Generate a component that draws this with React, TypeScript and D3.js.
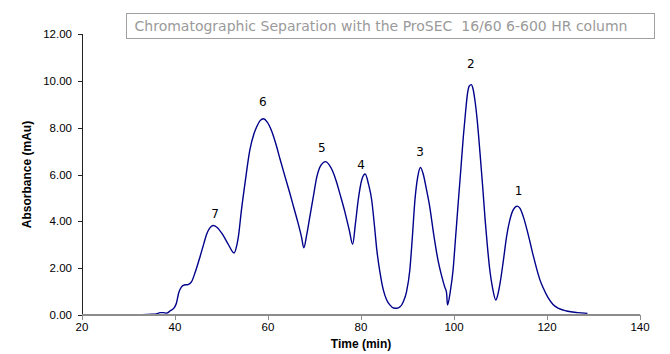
import React from "react";
import * as d3 from "d3";

const timeMin: number[] = [
  20, 25, 30, 32, 33, 34, 35, 36, 36.8, 37.5, 38.2, 39, 39.8, 40.3, 40.8, 41.4, 42, 42.8, 43.5, 44.3,
  45.4, 46.2, 46.8, 47.5, 48.2, 49, 50.3, 51.5, 52.7, 53.2, 53.6, 54.3, 55.05, 56.1, 57, 57.6, 58.3,
  59.0, 59.8, 60.8, 61.7, 62.6, 63.6, 64.7, 65.6, 66.5, 67.2, 67.7, 68.3, 69.0, 69.7, 70.5, 71.4,
  72.4, 73.2, 74.0, 74.8, 75.5, 76.6, 77.5, 78.2, 78.8, 79.4, 80.2, 80.9, 81.6, 82.3, 82.9, 83.4,
  84.1, 84.8, 85.5, 86.2, 87.0, 87.7, 88.4, 89.1, 89.8, 90.5, 91.0, 91.6, 92.2, 92.8, 93.4, 94.1,
  94.8, 95.6, 96.6, 97.3, 98.0, 98.4, 98.6, 99.2, 99.8, 100.3, 100.9, 101.5, 102.0, 102.5, 102.9,
  103.3, 103.7, 104.1, 104.5, 105.0, 105.6, 106.2, 106.7, 107.2, 107.7, 108.3, 109.0, 109.4, 109.9,
  110.6, 111.3, 112.0, 112.7, 113.6, 114.2, 114.9, 116.0, 117.1, 118.5, 119.2, 120.2, 121.3, 122.5,
  124.2, 126.5, 128.7,
];

const absorbance: number[] = [
  0, 0, 0, 0, 0.01, 0.02, 0.03, 0.05, 0.1, 0.1, 0.08, 0.18, 0.3, 0.5, 0.95, 1.2, 1.28, 1.3, 1.4, 1.8,
  2.5, 3.05, 3.45, 3.72, 3.82, 3.75, 3.42, 3.0, 2.65, 2.9, 3.3, 4.5, 5.62, 7.05, 7.75, 8.05, 8.3,
  8.38, 8.25, 7.85, 7.3, 6.65, 5.95, 5.2, 4.55, 3.9, 3.34, 2.87, 3.4, 4.2, 5.0, 5.9, 6.4,
  6.55, 6.4, 6.1, 5.64, 5.15, 4.35, 3.6, 3.02, 3.9, 4.91, 5.8, 6.02, 5.6, 4.91, 3.8, 2.78,
  1.8, 1.07, 0.65, 0.43, 0.3, 0.29, 0.35, 0.57, 1.0, 1.92, 3.2, 4.91, 5.9, 6.3, 6.0, 5.34,
  4.6, 3.49, 2.3, 1.7, 1.2, 0.95, 0.43, 1.0, 1.92, 3.2, 4.77, 6.3, 7.6, 8.7, 9.45,
  9.78, 9.84, 9.65, 9.17, 8.3, 6.9, 5.4, 4.05, 2.9, 1.92, 1.15, 0.64, 0.85, 1.35,
  2.3, 3.34, 4.05, 4.48, 4.65, 4.55, 4.2, 3.4, 2.49, 1.49, 1.15, 0.75, 0.45, 0.28,
  0.17, 0.1, 0.07,
];

const peakNames: string[] = ["7", "6", "5", "4", "3", "2", "1"];
const peakLabelTime: number[] = [48.6, 58.9, 71.6, 80.0, 92.7, 103.6, 113.9];
const peakLabelAbs: number[] = [4.31, 9.09, 7.14, 6.42, 6.95, 10.72, 5.28];

const xTicks: number[] = [20, 40, 60, 80, 100, 120, 140];
const yTicks: number[] = [0, 2, 4, 6, 8, 10, 12];

const titleText = "Chromatographic Separation with the ProSEC  16/60 6-600 HR column";
const xTitle = "Time (min)";
const yTitle = "Absorbance (mAu)";

export default function App() {
  const W = 670;
  const H = 354;
  const left = 82;
  const right = 640;
  const top = 34;
  const bottom = 315;

  const x = d3.scaleLinear().domain([20, 140]).range([left, right]);
  const y = d3.scaleLinear().domain([0, 12]).range([bottom, top]);

  const pts: [number, number][] = timeMin.map((t, i) => [t, absorbance[i]]);
  const line = d3
    .line<[number, number]>()
    .x((d) => x(d[0]))
    .y((d) => y(d[1]))
    .curve(d3.curveMonotoneX);

  const axisFont = "Liberation Sans, Arial, sans-serif";

  return (
    <svg
      width={W}
      height={H}
      style={{ position: "absolute", left: 0, top: 0, background: "#fff" }}
    >
      <rect x={0} y={0} width={W} height={H} fill="#fff" />
      {/* title box */}
      <rect x={126.5} y={13.5} width={528} height={25} fill="#fff" stroke="#a0a0a0" strokeWidth={1} />
      <text
        x={381}
        y={26}
        textAnchor="middle"
        dominantBaseline="central"
        fontFamily="DejaVu Sans, sans-serif"
        fontSize={14}
        fill="#9a9a9a"
        style={{ whiteSpace: "pre" }}
      >
        {titleText}
      </text>

      {/* curve */}
      <path d={line(pts) || ""} fill="none" stroke="#00008b" strokeWidth={1.4} />

      {/* y axis */}
      <line x1={left + 0.5} x2={left + 0.5} y1={top} y2={bottom} stroke="#222" strokeWidth={1} />
      {yTicks.map((v) => (
        <g key={"y" + v}>
          <line x1={left - 4} x2={left} y1={Math.round(y(v)) + 0.5} y2={Math.round(y(v)) + 0.5} stroke="#222" />
          <text
            x={left - 10}
            y={y(v)}
            textAnchor="end"
            dominantBaseline="central"
            fontFamily={axisFont}
            fontSize={11.5}
            fill="#000"
          >
            {v.toFixed(2)}
          </text>
        </g>
      ))}

      {/* x axis */}
      <line x1={left} x2={right} y1={bottom} y2={bottom} stroke="#8c8c8c" strokeWidth={2} />
      {xTicks.map((t) => (
        <g key={"x" + t}>
          <line x1={Math.round(x(t)) + 0.5} x2={Math.round(x(t)) + 0.5} y1={bottom} y2={bottom + 5} stroke="#8c8c8c" />
          <text
            x={x(t)}
            y={bottom + 12}
            textAnchor="middle"
            dominantBaseline="central"
            fontFamily={axisFont}
            fontSize={11.5}
            fill="#000"
          >
            {t}
          </text>
        </g>
      ))}

      {/* peak labels */}
      {peakNames.map((n, i) => (
        <text
          key={"p" + n}
          x={x(peakLabelTime[i])}
          y={y(peakLabelAbs[i])}
          textAnchor="middle"
          dominantBaseline="central"
          fontFamily="DejaVu Sans, sans-serif"
          fontSize={12}
          fill="#000"
        >
          {n}
        </text>
      ))}

      {/* axis titles */}
      <text
        x={(left + right) / 2}
        y={344}
        textAnchor="middle"
        dominantBaseline="central"
        fontFamily={axisFont}
        fontSize={12}
        fontWeight="bold"
        fill="#000"
      >
        {xTitle}
      </text>
      <text
        transform={`translate(27,${(top + bottom) / 2}) rotate(-90)`}
        textAnchor="middle"
        dominantBaseline="central"
        fontFamily={axisFont}
        fontSize={12}
        fontWeight="bold"
        fill="#000"
      >
        {yTitle}
      </text>
    </svg>
  );
}
